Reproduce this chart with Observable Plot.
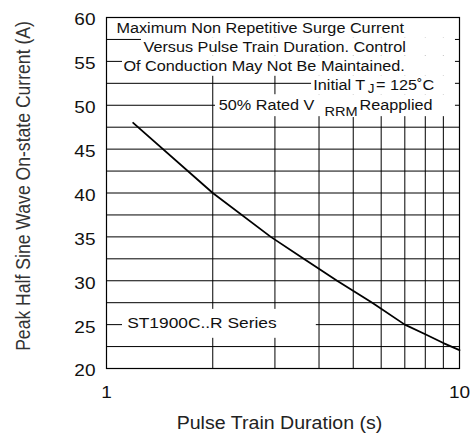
<!DOCTYPE html>
<html><head><meta charset="utf-8">
<script src="https://cdn.jsdelivr.net/npm/d3@7"></script>
<script src="https://cdn.jsdelivr.net/npm/@observablehq/plot@0.6"></script>
<style>
html,body{margin:0;padding:0;background:#fff;}
svg{display:block;}
</style></head><body><div id="chart"></div>
<script>
// ---- data ----
const durations = [1.19, 2, 2.92, 3.62, 4.5, 5.66, 7, 8, 9, 10];        // s
const currents  = [48, 40, 35, 32.5, 30, 27.5, 25, 23.9, 22.9, 22.1];   // A
const xTickLabels = [1, 10];
const xGrid = [2, 3, 4, 5, 6, 7, 8, 9];
const yTicks = [20, 25, 30, 35, 40, 45, 50, 55, 60];
const yGrid = [22.5, 25, 27.5, 30, 32.5, 35, 37.5, 40, 42.5, 45, 47.5, 50, 52.5, 55, 57.5];
const xLabel = "Pulse Train Duration (s)";
const yLabel = "Peak Half Sine Wave On-state Current (A)";
const titleLines = ["Maximum Non Repetitive Surge Current", "Versus Pulse Train Duration. Control", "Of Conduction May Not Be Maintained."];
const tjTexts = ["Initial T", "= 125˚C"];
const tjSub = "J";
const vTexts = ["50% Rated V", "Reapplied"];
const vSub = "RRM";
const seriesName = "ST1900C..R Series";

const curve = durations.map((d, i) => ({d, a: currents[i]}));

// ---- annotation placement (in data units) ----
const titleMarks = titleLines.map((t, i) => ({t, x: [1.067, 1.273, 1.117][i], y: [58.82, 56.62, 54.42][i]}));
const condMarks = [
  {t: tjTexts[0], x: 3.852, y: 52.23},
  {t: tjTexts[1], x: 5.80, y: 52.23},
  {t: vTexts[0], x: 2.08, y: 50.03},
  {t: vTexts[1], x: 5.21, y: 50.03}
];
const subMarks = [
  {t: tjSub, x: 5.50, y: 51.82},
  {t: vSub, x: 4.146, y: 49.28}
];
const boxes = [
  {x1: 1, x2: 9.74, y1: 57.7, y2: 60},
  {x1: 1.256, x2: 9.74, y1: 55.6, y2: 57.7},
  {x1: 1.11, x2: 9.74, y1: 53.3, y2: 55.6},
  {x1: 3.81, x2: 9.74, y1: 51.2, y2: 53.3},
  {x1: 2.036, x2: 9.74, y1: 48.7, y2: 51.2},
  {x1: 1.11, x2: 3.93, y1: 23.44, y2: 26.74}
];
const subBox = [{x1: 4.12, x2: 5.12, y1: 48.6, y2: 50.1}];

const ink = "#111";
const chart = Plot.plot({
  width: 475, height: 434,
  marginLeft: 106, marginRight: 16, marginTop: 17, marginBottom: 66,
  style: {fontFamily: "'Liberation Sans', Arial, sans-serif", color: ink, background: "#fff"},
  x: {type: "log", domain: [1, 10]},
  y: {domain: [20, 60]},
  marks: [
    Plot.ruleX(xGrid, {stroke: "#000", strokeWidth: 1}),
    Plot.ruleY(yGrid, {stroke: "#000", strokeWidth: 1}),
    Plot.rect(boxes, {x1: "x1", x2: "x2", y1: "y1", y2: "y2", fill: "#fff"}),
    Plot.line(curve, {x: "d", y: "a", stroke: "#000", strokeWidth: 1.8}),
    Plot.text(titleMarks, {x: "x", y: "y", text: "t", textAnchor: "start", lineAnchor: "middle", fontSize: 14.5, fill: ink}),
    Plot.text(condMarks, {x: "x", y: "y", text: "t", textAnchor: "start", lineAnchor: "middle", fontSize: 14.5, fill: ink}),
    Plot.rect(subBox, {x1: "x1", x2: "x2", y1: "y1", y2: "y2", fill: "#fff"}),
    Plot.text(subMarks.slice(0, 1), {x: "x", y: "y", text: "t", textAnchor: "start", lineAnchor: "middle", fontSize: 12, fill: ink}),
    Plot.text(subMarks.slice(1), {x: "x", y: "y", text: "t", textAnchor: "start", lineAnchor: "middle", fontSize: 13, fill: ink}),
    Plot.text([seriesName], {x: () => 1.1446, y: () => 25.2, text: d => d, textAnchor: "start", lineAnchor: "middle", fontSize: 15.5, fill: ink}),
    Plot.axisX({ticks: xTickLabels, tickSize: 0, tickPadding: 17, fontSize: 17, label: null, tickFormat: d => String(d)}),
    Plot.axisY({ticks: yTicks, tickSize: 0, tickPadding: 11, fontSize: 17, dy: 2.5, label: null}),
    Plot.text([xLabel], {frameAnchor: "bottom", text: d => d, dy: 54.9, dx: -3.5, fontSize: 17.5, lineAnchor: "middle", fill: "#222"}),
    Plot.text([yLabel], {frameAnchor: "left", text: d => d, rotate: -90, dx: -82.5, dy: -7, fontSize: 17.6, lineAnchor: "middle", textAnchor: "middle", fill: "#333"}),
    Plot.frame({stroke: "#000", strokeWidth: 1.2})
  ]
});

// Reference text is horizontally widened; stretch glyphs about their anchors.
const k = 1.12;
chart.querySelectorAll("text").forEach(t => {
  const tr = t.getAttribute("transform");
  if (tr && tr.includes("translate")) {
    t.setAttribute("transform", tr + (tr.includes("rotate") ? ` scale(1,${k})` : ` scale(${k},1)`));
  }
});
document.getElementById("chart").appendChild(chart);
</script>
</body></html>
